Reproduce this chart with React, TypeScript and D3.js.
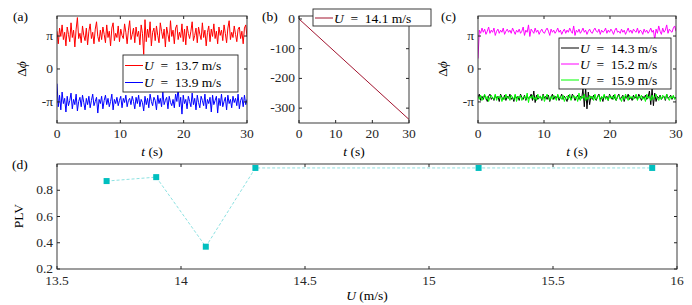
import React from "react";
import * as d3 from "d3";

// time series, sampled evenly over 0..30 s
const tEnd = 30;

const redA = [
  3.6, 2.4, 3.9, 3.1, 4.2, 2.8, 3.5, 2.2, 4.0, 3.3, 2.6, 4.4, 3.0, 3.7, 2.1, 3.8, 4.9, 2.9, 3.4, 2.5,
  4.1, 3.2, 2.7, 3.9, 2.3, 3.6, 4.3, 2.9, 3.5, 2.4, 3.8, 4.5, 3.1, 2.6, 3.7, 2.8, 4.0, 3.3, 2.5, 4.2,
  3.0, 3.6, 2.2, 3.9, 4.4, 2.7, 3.4, 3.0, 4.1, 2.6, 3.8, 3.2, 2.9, 4.3, 3.5, 2.4, 3.7, 4.6, 2.8, 3.3,
  3.9, 2.5, 4.0, 3.1, 3.6, 2.3, 4.2, 3.4, 1.4, 4.7, 2.6, 3.8, 3.0, 4.5, 2.2, 3.5, 3.9, 2.7, 4.1, 3.2,
  2.5, 4.4, 3.6, 2.9, 3.8, 2.1, 4.0, 3.3, 2.6, 4.6, 3.1, 3.7, 2.4, 3.9, 4.2, 2.8, 3.5, 3.0, 4.3, 2.6,
  3.8, 2.3, 4.1, 3.4, 2.9, 3.6, 4.5, 2.7, 3.2, 3.9, 2.5, 4.0, 3.3, 2.8, 4.4, 3.0, 3.7, 2.2, 3.5, 4.1,
  2.6, 3.8, 3.1, 4.3, 2.9, 3.6, 2.4, 4.0, 3.2, 3.7, 2.7, 4.2, 3.4, 2.5, 3.9, 4.6, 2.8, 3.5, 3.0, 4.1,
  3.3, 2.6, 3.8, 4.0, 2.9, 3.6, 2.4, 3.9, 4.2, 3.1,
];

const blueA = [
  -1.4, -3.6, -2.5, -3.9, -2.2, -3.3, -2.8, -4.1, -2.6, -3.5, -3.0, -2.3, -3.8, -2.9, -3.4, -2.4, -4.0, -3.1, -2.7, -3.6,
  -2.5, -3.2, -3.9, -2.8, -3.4, -2.6, -3.7, -3.0, -2.4, -3.5, -3.1, -2.7, -4.2, -2.9, -3.3, -2.6, -3.8, -3.0, -2.5, -3.4,
  -2.8, -3.6, -3.1, -2.4, -3.9, -2.9, -3.3, -2.7, -3.5, -3.0, -2.6, -3.7, -2.8, -3.2, -2.5, -3.6, -3.0, -2.8, -3.4, -2.6,
  -3.1, -3.8, -2.7, -3.3, -2.5, -3.6, -2.9, -3.2, -4.0, -2.6, -3.4, -2.8, -3.7, -2.4, -3.1, -3.5, -2.7, -3.0, -3.9, -2.5,
  -3.3, -2.8, -3.6, -2.2, -3.4, -3.0, -2.7, -3.8, -2.6, -3.2, -3.5, -2.9, -3.7, -2.4, -3.1, -1.8, -3.6, -2.7, -4.3, -2.5,
  -3.3, -2.9, -3.8, -2.6, -3.1, -3.6, -2.3, -3.4, -2.8, -3.9, -2.5, -3.2, -3.7, -2.6, -3.0, -3.5, -2.4, -3.8, -2.9, -3.3,
  -2.7, -4.1, -2.5, -3.4, -3.0, -2.6, -4.2, -2.8, -3.5, -2.4, -3.6, -3.1, -2.7, -3.9, -2.5, -3.3, -2.9, -3.7, -2.6, -3.2,
  -2.8, -3.5, -2.4, -3.8, -3.0, -2.7, -3.6, -2.5, -3.4, -2.9,
];

// panel (b): unwrapped phase drifts linearly
const lineB: [number, number][] = [
  [0, 0],
  [30, -338],
];

const blackC = [
  -2.7, -2.4, -3.0, -2.6, -2.9, -2.5, -2.8, -3.1, -2.6, -2.4, -2.9, -2.7, -3.0, -2.5, -2.8, -2.6, -3.1, -2.4, -2.7, -2.9,
  -2.5, -3.0, -2.6, -2.8, -2.4, -2.9, -2.7, -3.1, -2.5, -2.8, -2.6, -3.0, -2.4, -2.7, -2.9, -2.5, -3.0, -2.6, -2.8, -2.7,
  -2.4, -3.0, -2.1, -3.2, -2.5, -2.9, -2.7, -2.6, -3.0, -2.4, -2.8, -2.6, -2.9, -2.5, -3.1, -2.7, -2.4, -2.9, -2.6, -2.8,
  -2.5, -3.0, -2.7, -2.4, -2.9, -2.6, -2.8, -3.1, -2.5, -2.7, -2.9, -2.4, -2.6, -3.0, -2.7, -2.5, -2.9, -2.6, -2.8, -1.9,
  -3.6, -1.8, -3.8, -2.2, -3.4, -2.6, -2.9, -2.5, -2.8, -3.0, -2.6, -2.4, -2.9, -2.7, -3.1, -2.5, -2.8, -2.6, -3.0, -2.4,
  -2.7, -2.9, -2.5, -2.8, -3.0, -2.6, -2.4, -2.9, -2.7, -2.5, -3.1, -2.6, -2.8, -2.4, -2.9, -2.7, -3.0, -2.5, -2.8, -2.6,
  -2.9, -2.4, -2.7, -3.0, -2.6, -2.8, -2.5, -2.9, -2.7, -2.1, -3.4, -1.9, -3.5, -2.3, -3.1, -2.6, -2.8, -2.5, -2.9, -2.7,
  -2.6, -3.0, -2.4, -2.8, -2.7, -2.5, -2.9, -2.6, -2.8, -2.7,
];

const magentaC = [
  1.0, 3.7, 3.4, 3.9, 3.5, 3.8, 3.3, 3.6, 4.0, 3.4, 3.7, 3.5, 3.9, 3.2, 3.6, 3.8, 3.4, 3.7, 3.5, 3.9,
  3.3, 3.6, 3.8, 3.5, 3.7, 3.4, 3.9, 3.6, 3.3, 3.7, 3.5, 3.8, 3.4, 3.6, 4.0, 3.2, 3.7, 3.5, 4.2, 3.1,
  3.8, 3.6, 3.4, 3.9, 3.5, 3.7, 3.3, 3.6, 3.8, 3.5, 3.4, 3.7, 3.9, 3.6, 3.2, 3.8, 3.5, 3.7, 3.4, 3.6,
  3.9, 3.5, 3.7, 3.3, 3.6, 3.8, 3.4, 3.7, 3.5, 3.9, 3.6, 3.4, 4.1, 3.2, 3.7, 3.5, 3.8, 3.4, 3.6, 3.9,
  3.5, 3.7, 3.3, 3.6, 3.8, 3.5, 3.4, 3.7, 3.9, 3.6, 3.5, 3.8, 3.3, 3.7, 3.5, 3.6, 3.9, 3.4, 3.7, 3.5,
  3.8, 3.6, 3.3, 3.7, 3.9, 3.5, 3.6, 3.4, 3.8, 3.5, 3.7, 3.3, 3.6, 3.9, 3.5, 3.7, 3.4, 3.8, 3.6, 3.5,
  3.9, 3.4, 3.7, 3.6, 3.3, 3.8, 3.5, 3.7, 3.4, 3.6, 3.9, 3.5, 3.7, 2.8, 3.8, 3.4, 4.1, 3.6, 3.3, 3.9,
  3.5, 3.7, 4.2, 3.4, 3.8, 3.6, 3.5, 3.9, 4.1, 3.6,
];

const greenC = [
  -2.6, -2.9, -2.5, -3.0, -2.7, -2.4, -2.9, -2.6, -3.1, -2.7, -2.5, -2.8, -2.9, -2.4, -3.0, -2.6, -2.8, -2.5, -3.1, -2.7,
  -2.9, -2.4, -2.8, -2.6, -3.0, -2.5, -2.7, -2.9, -2.4, -3.1, -2.6, -2.8, -2.5, -3.0, -2.7, -2.6, -2.9, -2.3, -3.2, -2.6,
  -2.8, -2.5, -2.9, -2.7, -3.0, -2.4, -2.8, -2.6, -2.9, -2.5, -3.1, -2.7, -2.4, -2.8, -3.0, -2.6, -2.9, -2.5, -2.7, -3.0,
  -2.4, -2.8, -2.6, -2.9, -2.5, -3.1, -2.7, -2.6, -2.9, -2.4, -3.0, -2.7, -2.5, -2.8, -2.6, -3.1, -2.3, -3.0, -2.6, -2.8,
  -2.4, -3.0, -2.7, -2.9, -2.5, -2.8, -2.6, -3.0, -2.4, -2.9, -2.7, -2.5, -3.1, -2.6, -2.8, -2.4, -2.9, -2.7, -3.0, -2.5,
  -2.8, -2.6, -2.9, -2.4, -3.0, -2.7, -2.5, -2.8, -3.1, -2.6, -2.9, -2.4, -2.7, -3.0, -2.5, -2.8, -2.6, -2.9, -2.7, -2.4,
  -3.0, -2.6, -2.8, -2.5, -2.9, -2.7, -3.1, -2.4, -2.8, -2.6, -3.0, -2.5, -2.9, -2.7, -2.4, -2.8, -3.0, -2.6, -2.9, -2.5,
  -2.7, -2.9, -2.4, -2.8, -3.0, -2.6, -2.8, -2.5, -2.9, -2.7,
];

// panel (d)
const speeds = [13.7, 13.9, 14.1, 14.3, 15.2, 15.9];
const plv = [0.87, 0.9, 0.37, 0.97, 0.97, 0.97];

const tTicks = [0, 10, 20, 30];
const phaseTicks = [Math.PI, 0, -Math.PI];
const phaseLabels = ["π", "0", "-π"];
const bTicks = [0, -100, -200, -300];
const uTicks = [13.5, 14, 14.5, 15, 15.5, 16];
const plvTicks = [0.2, 0.4, 0.6, 0.8];

const AX = "#262626";
const FONT = "Liberation Serif";
const FS = 13.5;

type Series = { values: [number, number][]; color: string };

const toXY = (v: number[]): [number, number][] =>
  v.map((y, i) => [(i * tEnd) / (v.length - 1), y]);

function Frame({ tickLen = 3, xs, ys, xTicks, yTicks, xLabels, yLabels, xLabelDy = 15 }: any) {
  const [x0, x1] = xs.range();
  const [y0, y1] = ys.range();
  return (
    <g>
      <rect x={x0} y={y1} width={x1 - x0} height={y0 - y1} fill="none" stroke={AX} strokeWidth={0.9} />
      {xTicks.map((t: number, i: number) => (
        <g key={"x" + i}>
          <line x1={xs(t)} x2={xs(t)} y1={y0} y2={y0 - tickLen} stroke={AX} />
          <line x1={xs(t)} x2={xs(t)} y1={y1} y2={y1 + tickLen} stroke={AX} />
          <text x={xs(t)} y={y0 + xLabelDy} textAnchor="middle" fontSize={FS} fill={AX}>
            {xLabels ? xLabels[i] : t}
          </text>
        </g>
      ))}
      {yTicks.map((t: number, i: number) => (
        <g key={"y" + i}>
          <line x1={x0} x2={x0 + tickLen} y1={ys(t)} y2={ys(t)} stroke={AX} />
          <line x1={x1} x2={x1 - tickLen} y1={ys(t)} y2={ys(t)} stroke={AX} />
          <text x={x0 - 4} y={ys(t) + 4} textAnchor="end" fontSize={FS} fill={AX}>
            {yLabels ? yLabels[i] : t}
          </text>
        </g>
      ))}
    </g>
  );
}

function Legend({ x, y, w, entries, rowH = 17 }: any) {
  const h = entries.length * rowH + 3;
  return (
    <g>
      <rect x={x} y={y} width={w} height={h} fill="white" stroke={AX} strokeWidth={0.9} />
      {entries.map((e: any, i: number) => {
        const cy = y + 2 + rowH / 2 + i * rowH;
        return (
          <g key={i}>
            <line x1={x + 2} x2={x + 20} y1={cy} y2={cy} stroke={e.color} strokeWidth={1} />
            <text x={x + 21} y={cy + 4.5} fontSize={FS} fill="#000" style={{ whiteSpace: "pre" }}>
              <tspan fontStyle="italic">U</tspan>
              <tspan>{"  =  " + e.label + " m/s"}</tspan>
            </text>
          </g>
        );
      })}
    </g>
  );
}

function TimePanel({ left, right, series, yDomain, yTicks, yLabels, clip }: any) {
  const xs = d3.scaleLinear().domain([0, tEnd]).range([left, right]);
  const ys = d3.scaleLinear().domain(yDomain).range([123, 16]);
  const line = d3
    .line<[number, number]>()
    .x((d) => xs(d[0]))
    .y((d) => ys(d[1]));
  return (
    <g>
      <defs>
        <clipPath id={clip}>
          <rect x={left} y={16} width={right - left} height={107} />
        </clipPath>
      </defs>
      <g clipPath={`url(#${clip})`}>
        {series.map((s: Series, i: number) => (
          <path key={i} d={line(s.values) || ""} fill="none" stroke={s.color} strokeWidth={1} strokeLinejoin="round" />
        ))}
      </g>
      <Frame xs={xs} ys={ys} xTicks={tTicks} yTicks={yTicks} yLabels={yLabels} />
      <text x={(left + right) / 2} y={156} textAnchor="middle" fontSize={FS}>
        <tspan fontStyle="italic">t</tspan> (s)
      </text>
    </g>
  );
}

export default function App() {
  const xd = d3.scaleLinear().domain([13.5, 16]).range([57, 677]);
  const yd = d3.scaleLinear().domain([0.2, 1]).range([269, 164]);
  const plvLine = d3
    .line<number>()
    .x((_, i) => xd(speeds[i]))
    .y((d) => yd(d));

  return (
    <svg width={692} height={305} style={{ position: "absolute", left: 0, top: 0 }}>
      <rect width={692} height={305} fill="white" />
      <g fontFamily={FONT}>
        {/* (a) */}
        <TimePanel
          left={57}
          right={247}
          clip="ca"
          yDomain={[-5.15, 5.05]}
          yTicks={phaseTicks}
          yLabels={phaseLabels}
          series={[
            { values: toXY(redA), color: "#ff0000" },
            { values: toXY(blueA), color: "#0000ff" },
          ]}
        />
        <Legend
          x={123}
          y={55}
          w={115}
          entries={[
            { label: "13.7", color: "#ff0000" },
            { label: "13.9", color: "#0000ff" },
          ]}
        />
        <text x={26} y={69} transform="rotate(-90 26 69)" textAnchor="middle" fontSize={FS}>
          Δ<tspan fontStyle="italic">ϕ</tspan>
        </text>
        <text x={13} y={21} fontSize={FS}>(a)</text>

        {/* (b) */}
        <TimePanel
          left={299}
          right={409}
          clip="cb"
          yDomain={[-350, 10]}
          yTicks={bTicks}
          series={[{ values: lineB, color: "#a2142f" }]}
        />
        <Legend x={313} y={9} w={118} rowH={14} entries={[{ label: "14.1", color: "#a2142f" }]} />
        <text x={262} y={21} fontSize={FS}>(b)</text>

        {/* (c) */}
        <TimePanel
          left={478}
          right={676}
          clip="cc"
          yDomain={[-5.15, 5.05]}
          yTicks={phaseTicks}
          yLabels={phaseLabels}
          series={[
            { values: toXY(magentaC), color: "#ff00ff" },
            { values: toXY(blackC), color: "#000000" },
            { values: toXY(greenC), color: "#00ff00" },
          ]}
        />
        <Legend
          x={559}
          y={38}
          w={112}
          rowH={16}
          entries={[
            { label: "14.3", color: "#000000" },
            { label: "15.2", color: "#ff00ff" },
            { label: "15.9", color: "#00ff00" },
          ]}
        />
        <text x={447} y={69} transform="rotate(-90 447 69)" textAnchor="middle" fontSize={FS}>
          Δ<tspan fontStyle="italic">ϕ</tspan>
        </text>
        <text x={441} y={21} fontSize={FS}>(c)</text>

        {/* (d) */}
        <path d={plvLine(plv) || ""} fill="none" stroke="#7fdede" strokeWidth={0.9} strokeDasharray="3 2" />
        {plv.map((v, i) => (
          <rect key={i} x={xd(speeds[i]) - 3} y={yd(v) - 3} width={6} height={6} fill="#00bfbf" />
        ))}
        <Frame xs={xd} ys={yd} xTicks={uTicks} yTicks={plvTicks} xLabelDy={16} />
        <text x={23} y={216} transform="rotate(-90 23 216)" textAnchor="middle" fontSize={FS}>
          PLV
        </text>
        <text x={367} y={300} textAnchor="middle" fontSize={FS}>
          <tspan fontStyle="italic">U</tspan> (m/s)
        </text>
        <text x={12} y={169} fontSize={FS}>(d)</text>
      </g>
    </svg>
  );
}
